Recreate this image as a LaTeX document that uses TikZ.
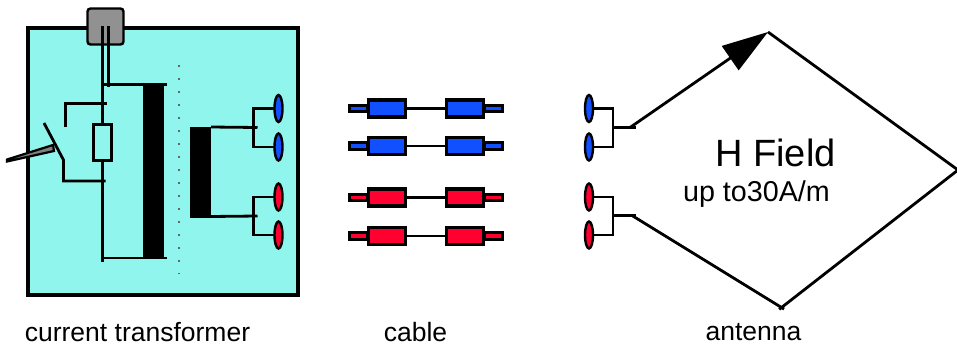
\documentclass[tikz,border=0pt]{standalone}
\usepackage{fontspec}
\setmainfont{Liberation Sans}
\usetikzlibrary{arrows.meta,shapes.geometric}
\definecolor{housing}{HTML}{90F5EC}
\definecolor{plugblue}{HTML}{1050FF}
\definecolor{plugred}{HTML}{FF0030}
\begin{document}
\begin{tikzpicture}[
  x=1pt,
  y=-1pt,
  wire/.style={line width=2.8pt, line cap=butt},
  core/.style={draw=none, fill=black, inner sep=0pt, outer sep=0pt},
  terminal/.style={draw=black, line width=2.4pt, ellipse, inner sep=0pt, outer sep=0pt, minimum width=8pt, minimum height=27pt},
  body/.style={draw=black, line width=3.6pt, inner sep=0pt, outer sep=0pt, minimum width=37pt, minimum height=17pt},
  tail/.style={draw=black, line width=2.8pt, inner sep=0pt, outer sep=0pt, minimum width=18pt, minimum height=6.5pt},
  caption/.style={font=\fontsize{26.5}{30}\selectfont, inner sep=0pt}
]
  \useasboundingbox (0,0) rectangle (957,351);

  \node[draw=black, line width=3.8pt, fill=housing, inner sep=0pt, outer sep=0pt, minimum width=270pt, minimum height=267pt] (housing) at (163,161.5) {};
  \node[draw=black, line width=2.4pt, fill=black!43, rounded corners=3pt, inner sep=0pt, outer sep=0pt, minimum width=36pt, minimum height=36pt] (gland) at (105.5,26.5) {};

  % primary side
  \node[core, minimum width=21pt, minimum height=174pt] (primary) at (153.5,171.5) {};
  \coordinate (ptop) at (102.5,84.5);
  \coordinate (pbottom) at (102.5,258);
  \draw[wire] (102.5,26) -- (102.5,262);
  \draw[wire] (108.5,26) -- (108.5,87);
  \draw[wire] (ptop) -- (167,84.5);
  \draw[wire] (pbottom) -- (167,258);
  \draw[black!60, line width=1.5pt, dash pattern=on 2pt off 11pt] (179,65) -- (179,274);

  % fuse and switch
  \node[draw=black, line width=2.8pt, fill=housing, inner sep=0pt, outer sep=0pt, minimum width=18pt, minimum height=36pt] (fuse) at (102.5,142.5) {};
  \coordinate (contact) at (65.5,127);
  \coordinate (pivot) at (63.5,160);
  \coordinate (blade) at (44,123);
  \draw[wire] (contact) -- (65.5,103.5) -- (107,103.5);
  \draw[wire] (105.5,181) -- (63.5,181) -- (pivot) -- (blade);
  \draw[black, line width=2.2pt, fill=black!50] (7,159.5) -- (53,145) -- (54,151) -- (7,161.5) -- cycle;

  % secondary side
  \node[core, minimum width=21pt, minimum height=91pt] (secondary) at (200.5,172) {};
  \node[terminal, fill=plugblue] (tb1) at (278.5,108.5) {};
  \node[terminal, fill=plugblue] (tb2) at (278.5,147) {};
  \node[terminal, fill=plugred] (tr1) at (278.5,197) {};
  \node[terminal, fill=plugred] (tr2) at (278.5,235) {};
  \draw[wire] (secondary.north east) ++(0,0.5) -- (257.5,127.5);
  \draw[wire] (secondary.south east) ++(0,-1) -- (257.5,216);
  \draw[wire] (tb1.west) -- (253.5,108.5) -- (253.5,147) -- (tb2.west);
  \draw[wire] (tr1.west) -- (253.5,197) -- (253.5,235) -- (tr2.west);

  % cable
  \node[tail, fill=plugblue] (ta) at (358.5,108.5) {};
  \node[tail, fill=plugblue] (tb) at (493.5,108.5) {};
  \node[body, fill=plugblue] (ba) at (387,108.5) {};
  \node[body, fill=plugblue] (bb) at (465,108.5) {};
  \draw[wire] (ba) -- (bb);
  \node[tail, fill=plugblue] (tc) at (358.5,146) {};
  \node[tail, fill=plugblue] (td) at (493.5,146) {};
  \node[body, fill=plugblue] (bc) at (387,146) {};
  \node[body, fill=plugblue] (bd) at (465,146) {};
  \draw[wire] (bc) -- (bd);
  \node[tail, fill=plugred] (te) at (358.5,197.5) {};
  \node[tail, fill=plugred] (tf) at (493.5,197.5) {};
  \node[body, fill=plugred] (be) at (387,197.5) {};
  \node[body, fill=plugred] (bf) at (465,197.5) {};
  \draw[wire] (be) -- (bf);
  \node[tail, fill=plugred] (tg) at (358.5,236) {};
  \node[tail, fill=plugred] (th) at (493.5,236) {};
  \node[body, fill=plugred] (bg) at (387,236) {};
  \node[body, fill=plugred] (bh) at (465,236) {};
  \draw[wire] (bg) -- (bh);

  % antenna
  \node[terminal, fill=plugblue] (ab1) at (589,108.5) {};
  \node[terminal, fill=plugblue] (ab2) at (589,147) {};
  \node[terminal, fill=plugred] (ar1) at (589,197) {};
  \node[terminal, fill=plugred] (ar2) at (589,235) {};
  \coordinate (feedb) at (636,127.5);
  \coordinate (feedr) at (636,215.5);
  \coordinate (looptop) at (768,32);
  \coordinate (loopright) at (958,170);
  \coordinate (loopbottom) at (781.5,307.5);
  \draw[wire] (ab1.east) -- (613,108.5) -- (613,147) -- (ab2.east);
  \draw[wire] (ar1.east) -- (613,197) -- (613,235) -- (ar2.east);
  \draw[wire] (613,127.5) -- (feedb);
  \draw[wire] (613,215.5) -- (feedr);
  \draw[wire, -{Triangle[length=46pt,width=29pt]}] (630,127.5) -- (looptop);
  \draw[wire, line join=miter] (looptop) -- (loopright);
  \draw[wire, shorten >=-3pt] (loopright) -- (loopbottom);
  \draw[wire, shorten <=-3pt] (loopbottom) -- (632,215.5);

  \node[font=\fontsize{38}{42}\selectfont, inner sep=0pt] (hfield) at (775.5,153) {H Field};
  \node[font=\fontsize{28.7}{32}\selectfont, inner sep=0pt] (limit) at (756.5,194.5) {up to30A/m};

  \node[caption] (cttext) at (137.5,332) {current transformer};
  \node[caption] (cabletext) at (415.5,332) {cable};
  \node[caption] (antennatext) at (753.5,332) {antenna};
\end{tikzpicture}
\end{document}
